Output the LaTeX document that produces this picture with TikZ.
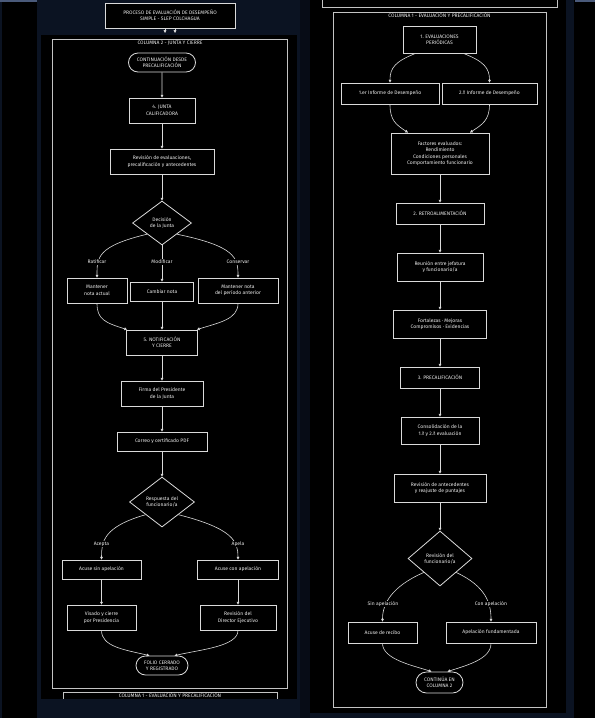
\documentclass[tikz,border=0pt]{standalone}
\usepackage{fontspec}
\setmainfont{Fira Sans}
\usetikzlibrary{shapes.geometric,shapes.misc,arrows.meta}
\definecolor{navy}{HTML}{0B1322}
\definecolor{navyd}{HTML}{070C16}
\definecolor{linec}{HTML}{DADADA}
\definecolor{framec}{HTML}{C4C4C4}
\definecolor{txt}{HTML}{EDEDED}
\definecolor{barc}{HTML}{4A5A7A}
\begin{document}
\begin{tikzpicture}[x=1pt,y=-1pt,
  every node/.style={font=\fontsize{5}{6.4}\selectfont, text=txt, inner sep=0pt, align=center},
  bx/.style 2 args={draw=linec, line width=0.8pt, fill=black, minimum width=#1pt, minimum height=#2pt},
  stad/.style 2 args={rounded rectangle, draw=linec, line width=0.8pt, fill=black, minimum width=#1pt, minimum height=#2pt},
  dia/.style 2 args={diamond, draw=linec, line width=0.8pt, fill=black, minimum width=#1pt, minimum height=#2pt},
  arr/.style={draw=linec, line width=0.6pt, -{Triangle[length=2.8pt,width=2.8pt]}},
  lbl/.style={fill=black, inner sep=0.8pt},
  frame/.style={draw=framec, line width=0.6pt}]
\useasboundingbox (0,0) rectangle (595,718);
% background
\fill[navy] (0,0) rectangle (595,718);
\fill[black] (2,0) rectangle (37,718);
\fill[barc] (0,0) rectangle (37,2);
\fill[black] (41,35) rectangle (297,699);
\fill[navyd] (300,0) rectangle (310,718);
\fill[black] (310,0) rectangle (566,713);
\fill[black] (574,0) rectangle (595,718);
\fill[barc] (575,0) rectangle (595,2);

% ===== left panel: column 2 =====
\node[bx={130}{25}] (title) at (170,15.5) {PROCESO DE EVALUACIÓN DE DESEMPEÑO\\SIMPLE - SLEP COLCHAGUA};
\coordinate (ta) at (165,33);
\coordinate (tb) at (175,33);
\draw[arr] (title.south -| ta) -- (ta);
\draw[arr] (title.south -| tb) -- (tb);

\draw[frame] (52,39) rectangle (287,688);
\node (f2t) at (170,43.5) {COLUMNA 2 - JUNTA Y CIERRE};

\node[stad={67}{19}] (c2start) at (162,62.5) {CONTINUACIÓN DESDE\\PRECALIFICACIÓN};
\node[bx={66}{25}] (j4) at (162,110.5) {4. JUNTA\\CALIFICADORA};
\node[bx={104}{25}] (rev) at (162,161.5) {Revisión de evaluaciones,\\precalificación y antecedentes};
\node[dia={59}{44}] (dec) at (162,223) {Decisión\\de la Junta};
\node[bx={60}{25}] (m1) at (97,290.5) {Mantener\\nota actual};
\node[bx={63}{19}] (m2) at (162,291.5) {Cambiar nota};
\node[bx={80}{25}] (m3) at (238,290.5) {Mantener nota\\del período anterior};
\node[bx={71}{25}] (n5) at (162,342.5) {5. NOTIFICACIÓN\\Y CIERRE};
\node[bx={82}{25}] (firma) at (162,393.5) {Firma del Presidente\\de la Junta};
\node[bx={90}{19}] (correo) at (162,441.5) {Correo y certificado PDF};
\node[dia={65}{50}] (resp) at (162,502) {Respuesta del\\funcionario/a};
\node[bx={79}{19}] (acsin) at (101.5,569.5) {Acuse sin apelación};
\node[bx={81}{19}] (accon) at (238,569.5) {Acuse con apelación};
\node[bx={69}{25}] (visado) at (101.5,617.5) {Visado y cierre\\por Presidencia};
\node[bx={76}{25}] (revdir) at (238,617.5) {Revisión del\\Director Ejecutivo};
\node[stad={52}{19}] (folio) at (162,665.5) {FOLIO CERRADO\\Y REGISTRADO};

\draw[arr] (c2start) -- (j4);
\draw[arr] (j4) -- (rev);
\draw[arr] (rev) -- (dec);
\draw[arr] (dec.south west) .. controls +(-50,12) and +(0,-20) .. (m1.north);
\draw[arr] (dec.south) -- (m2.north);
\draw[arr] (dec.south east) .. controls +(58,12) and +(0,-20) .. (m3.north);
\node[lbl] (lr) at (97,262) {Ratificar};
\node[lbl] (lm) at (162,262) {Modificar};
\node[lbl] (lc) at (238,262) {Conservar};
\draw[arr] (m1.south) .. controls +(0,16) and +(-22,-7) .. ([xshift=1pt]n5.north west);
\draw[arr] (m2.south) -- (n5.north);
\draw[arr] (m3.south) .. controls +(0,16) and +(22,-7) .. ([xshift=-1pt]n5.north east);
\draw[arr] (n5) -- (firma);
\draw[arr] (firma) -- (correo);
\draw[arr] (correo) -- (resp);
\draw[arr] (resp.south west) .. controls +(-42,12) and +(0,-18) .. (acsin.north);
\draw[arr] (resp.south east) .. controls +(55,14) and +(0,-18) .. (accon.north);
\node[lbl] (la) at (101.5,544) {Acepta};
\node[lbl] (lp) at (238,544) {Apela};
\draw[arr] (acsin) -- (visado);
\draw[arr] (accon) -- (revdir);
\draw[arr] (visado.south) .. controls +(0,16) and +(-26,-6) .. ([xshift=4pt]folio.north west);
\draw[arr] (revdir.south) .. controls +(0,16) and +(26,-6) .. ([xshift=-4pt]folio.north east);

% cut box at the bottom of the left panel
\draw[frame] (63,699) -- (63,692) -- (277,692) -- (277,699);
\node (b1t) at (170,695) {COLUMNA 1 - EVALUACIÓN Y PRECALIFICACIÓN};

% ===== right panel: column 1 =====
\draw[frame] (322,0) -- (322,7) -- (557,7) -- (557,0);
\draw[frame] (333,12) rectangle (546,707);
\node (f1t) at (439.5,15.5) {COLUMNA 1 - EVALUACIÓN Y PRECALIFICACIÓN};

\node[bx={73}{27}] (ev1) at (439.5,39.5) {1. EVALUACIONES\\PERIÓDICAS};
\node[bx={98}{21}] (inf1) at (390,93.5) {1.er Informe de Desempeño};
\node[bx={95}{21}] (inf2) at (489.5,93.5) {2.º Informe de Desempeño};
\node[bx={98}{41}] (fact) at (440,153.5) {Factores evaluados:\\Rendimiento\\Condiciones personales\\Comportamiento funcionario};
\node[bx={88}{21}] (retro) at (440,213.5) {2. RETROALIMENTACIÓN};
\node[bx={86}{28}] (reun) at (440,267) {Reunión entre jefatura\\y funcionario/a};
\node[bx={93}{28}] (fort) at (440,324) {Fortalezas · Mejoras\\Compromisos · Evidencias};
\node[bx={79}{21}] (prec) at (440,377.5) {3. PRECALIFICACIÓN};
\node[bx={78}{27}] (cons) at (440,430.5) {Consolidación de la\\1.ª y 2.ª evaluación};
\node[bx={92}{28}] (rant) at (440,488) {Revisión de antecedentes\\y reajuste de puntajes};
\node[dia={64}{55}] (rdec) at (440,558.5) {Revisión del\\funcionario/a};
\node[bx={69}{21}] (acr) at (382.5,632.5) {Acuse de recibo};
\node[bx={90}{21}] (apf) at (491,632.5) {Apelación fundamentada};
\node[stad={47}{21}] (cont) at (439.5,682.5) {CONTINÚA EN\\COLUMNA 2};

\draw[arr] ([xshift=-24pt]ev1.south) .. controls +(-20,8) and +(0,-15) .. (inf1.north);
\draw[arr] ([xshift=24pt]ev1.south) .. controls +(20,8) and +(0,-15) .. (inf2.north);
\draw[arr] (inf1.south) .. controls +(0,16) and +(-12,-8) .. ([xshift=-32pt]fact.north);
\draw[arr] (inf2.south) .. controls +(0,16) and +(12,-8) .. ([xshift=30pt]fact.north);
\draw[arr] (fact) -- (retro);
\draw[arr] (retro) -- (reun);
\draw[arr] (reun) -- (fort);
\draw[arr] (fort) -- (prec);
\draw[arr] (prec) -- (cons);
\draw[arr] (cons) -- (rant);
\draw[arr] (rant) -- (rdec);
\draw[arr] (rdec.south west) .. controls +(-32,14) and +(0,-18) .. (acr.north);
\draw[arr] (rdec.south east) .. controls +(30,14) and +(0,-18) .. (apf.north);
\node[lbl] (ls) at (383,604) {Sin apelación};
\node[lbl] (lca) at (491,604) {Con apelación};
\draw[arr] (acr.south) .. controls +(0,16) and +(-18,-6) .. ([xshift=5pt]cont.north west);
\draw[arr] (apf.south) .. controls +(0,16) and +(18,-6) .. ([xshift=-5pt]cont.north east);
\end{tikzpicture}
\end{document}
